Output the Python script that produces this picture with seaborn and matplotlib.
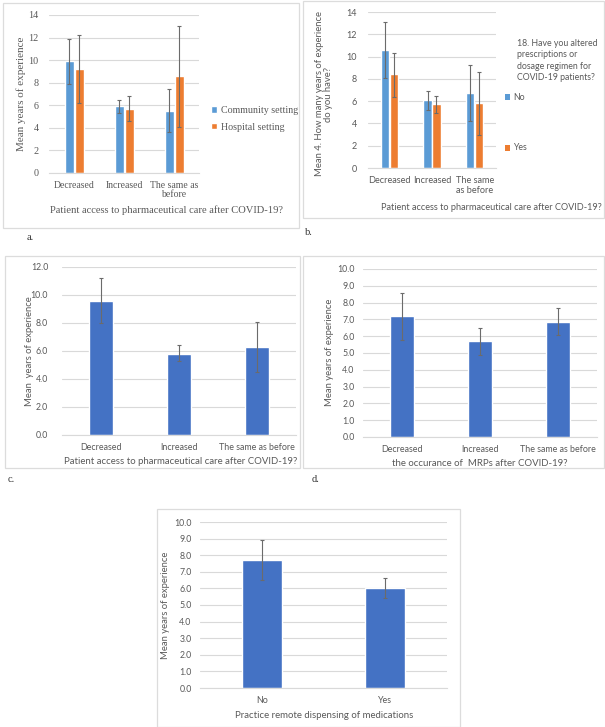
import numpy as np
import pandas as pd
import matplotlib
matplotlib.use("Agg")
import matplotlib.pyplot as plt
import seaborn as sns
from matplotlib.patches import Rectangle, Patch

# ---------------- data ----------------
access_cats = ["Decreased", "Increased", "The same as before"]
a_groups = ["Community setting", "Hospital setting"]
a_community_mean = [9.9, 5.9, 5.5]
a_community_lo = [7.9, 5.3, 3.6]
a_community_hi = [11.9, 6.5, 7.4]
a_hospital_mean = [9.2, 5.7, 8.6]
a_hospital_lo = [6.2, 4.6, 4.1]
a_hospital_hi = [12.2, 6.8, 13.0]
a_ticklabels = ["Decreased", "Increased", "The same as\nbefore"]

b_groups = ["No", "Yes"]
b_no_mean = [10.6, 6.1, 6.7]
b_no_lo = [8.1, 5.2, 4.2]
b_no_hi = [13.1, 6.9, 9.2]
b_yes_mean = [8.4, 5.7, 5.8]
b_yes_lo = [6.4, 4.9, 3.0]
b_yes_hi = [10.3, 6.5, 8.6]
b_ticklabels = ["Decreased", "Increased", "The same\nas before"]

c_mean = [9.6, 5.8, 6.3]
c_lo = [8.0, 5.3, 4.5]
c_hi = [11.2, 6.4, 8.1]

d_mean = [7.2, 5.7, 6.85]
d_lo = [5.8, 4.9, 6.05]
d_hi = [8.6, 6.5, 7.65]

e_cats = ["No", "Yes"]
e_mean = [7.7, 6.0]
e_lo = [6.5, 5.4]
e_hi = [8.9, 6.6]

# ---------------- style ----------------
sns.set_theme(style="white")
SANS = ["Lato", "DejaVu Sans"]
SERIF = ["Liberation Serif", "DejaVu Serif"]
plt.rcParams["font.family"] = SANS
GRAY = "#595959"
GRID = "#D9D9D9"
BLUE = "#5B9BD5"
ORANGE = "#ED7D31"
DBLUE = "#4472C4"
ERR = "#6b6b6b"

W, H = 605, 727
fig = plt.figure(figsize=(W / 100, H / 100), dpi=100)
fig.patch.set_facecolor("white")


def add_ax(l, t, r, b):
    return fig.add_axes([l / W, 1 - b / H, (r - l) / W, (b - t) / H])


def box(l, t, r, b):
    fig.patches.append(Rectangle((l / W, 1 - b / H), (r - l) / W, (b - t) / H,
                                 transform=fig.transFigure, fill=False,
                                 edgecolor="#DCDCDC", lw=0.9, zorder=0))


def ftext(x, y, s, **kw):
    fig.text(x / W, 1 - y / H, s, **kw)


def style_ax(ax, ymax, step, fmt, family, fs, ypad, xpad=6):
    ax.set_ylim(0, ymax)
    ax.set_yticks(np.arange(0, ymax + 0.001, step))
    ax.set_yticklabels([fmt.format(v) for v in np.arange(0, ymax + 0.001, step)],
                       family=family, fontsize=fs, color=GRAY)
    ax.yaxis.grid(True, color=GRID, lw=0.8)
    ax.set_axisbelow(True)
    for s in ["top", "right", "left"]:
        ax.spines[s].set_visible(False)
    ax.spines["bottom"].set_color(GRID)
    ax.spines["bottom"].set_linewidth(0.8)
    ax.tick_params(axis="y", length=0, pad=ypad)
    ax.tick_params(axis="x", length=0, pad=xpad)
    ax.set_xlabel("")
    ax.set_ylabel("")
    ax.set_facecolor("none")


def errs(ax, means, lo, hi, container):
    xs = [p.get_x() + p.get_width() / 2 for p in container]
    m = np.array(means)
    ax.errorbar(xs, m, yerr=[m - np.array(lo), np.array(hi) - m], fmt="none",
                ecolor=ERR, elinewidth=0.8, capsize=1.6, capthick=0.8, zorder=3)


# ---------------- panel a ----------------
box(3, 3, 299, 228)
axa = add_ax(49, 15, 199, 173)
dfa = pd.DataFrame({
    "cat": access_cats * 2,
    "grp": [a_groups[0]] * 3 + [a_groups[1]] * 3,
    "val": a_community_mean + a_hospital_mean,
})
sns.barplot(data=dfa, x="cat", y="val", hue="grp", order=access_cats,
            hue_order=a_groups, palette=[BLUE, ORANGE], errorbar=None,
            saturation=1, width=0.4, gap=0.1, legend=False, ax=axa)
style_ax(axa, 14, 2, "{:.0f}", SERIF, 7.3, ypad=7.5)
axa.set_xticks(range(3))
axa.set_xticklabels(a_ticklabels, family=SERIF, fontsize=7.0, color=GRAY,
                    linespacing=1.0)
errs(axa, a_community_mean, a_community_lo, a_community_hi, axa.containers[0])
errs(axa, a_hospital_mean, a_hospital_lo, a_hospital_hi, axa.containers[1])
axa.set_xlim(-0.5, 2.5)
ftext(21, 94, "Mean years of experience", rotation=90, ha="center", va="center",
      family=SERIF, fontsize=8, color=GRAY)
ftext(167, 210, "Patient access to pharmaceutical care after COVID-19?",
      ha="center", va="center", family=SERIF, fontsize=7.6, color=GRAY)
handles = [Patch(facecolor=BLUE), Patch(facecolor=ORANGE)]
fig.legend(handles, a_groups, loc="upper left",
           bbox_to_anchor=(206 / W, 1 - 101 / H), frameon=False,
           prop={"family": SERIF, "size": 7.2}, labelcolor=GRAY,
           handlelength=0.6, handleheight=0.6, handletextpad=0.4,
           labelspacing=0.75, borderpad=0)
ftext(27, 238, "a.", family=SERIF, fontsize=7.5, color="#333333",
      ha="left", va="center")

# ---------------- panel b ----------------
box(303, 1, 604, 218)
axb = add_ax(368, 12, 496, 168)
dfb = pd.DataFrame({
    "cat": access_cats * 2,
    "grp": [b_groups[0]] * 3 + [b_groups[1]] * 3,
    "val": b_no_mean + b_yes_mean,
})
sns.barplot(data=dfb, x="cat", y="val", hue="grp", order=access_cats,
            hue_order=b_groups, palette=[BLUE, ORANGE], errorbar=None,
            saturation=1, width=0.42, gap=0.1, legend=False, ax=axb)
style_ax(axb, 14, 2, "{:.0f}", SANS, 6.5, ypad=8)
axb.set_xticks(range(3))
axb.set_xticklabels(b_ticklabels, fontsize=6.6, color=GRAY, linespacing=1.1)
errs(axb, b_no_mean, b_no_lo, b_no_hi, axb.containers[0])
errs(axb, b_yes_mean, b_yes_lo, b_yes_hi, axb.containers[1])
axb.set_xlim(-0.5, 2.5)
ftext(324, 94, "Mean 4. How many years of experience\ndo you have?", rotation=90,
      ha="center", va="center", fontsize=6.8, color=GRAY, linespacing=1.1)
ftext(491, 207, "Patient access to pharmaceutical care after COVID-19?",
      ha="center", va="center", fontsize=6.6, color=GRAY)
ftext(517, 39, "18. Have you altered\nprescriptions or\ndosage regimen for\nCOVID-19 patients?",
      ha="left", va="top", fontsize=6.3, color=GRAY, linespacing=1.35)
for lab, col, y in zip(b_groups, [BLUE, ORANGE], [97, 148]):
    fig.patches.append(Rectangle((505 / W, 1 - (y + 2.5) / H), 5 / W, 5 / H,
                                 transform=fig.transFigure, facecolor=col,
                                 edgecolor="none"))
    ftext(513, y, lab, ha="left", va="center", fontsize=6.3, color=GRAY)
ftext(305, 233, "b.", family=SERIF, fontsize=7.5, color="#333333",
      ha="left", va="center")

# ---------------- panel c ----------------
box(5, 256, 300, 468)
axc = add_ax(62, 267, 296, 435)
dfc = pd.DataFrame({"cat": access_cats, "val": c_mean})
sns.barplot(data=dfc, x="cat", y="val", order=access_cats, color=DBLUE,
            saturation=1, errorbar=None, width=0.31, ax=axc)
style_ax(axc, 12, 2, "{:.1f}", SANS, 6.3, ypad=10)
axc.set_xticks(range(3))
axc.set_xticklabels(access_cats, fontsize=6.4, color=GRAY)
errs(axc, c_mean, c_lo, c_hi, axc.containers[0])
axc.set_xlim(-0.5, 2.5)
ftext(29, 351, "Mean  years of experience", rotation=90, ha="center",
      va="center", fontsize=6.8, color=GRAY)
ftext(181, 462, "Patient access to pharmaceutical care after COVID-19?",
      ha="center", va="center", fontsize=6.9, color=GRAY)
ftext(8, 479, "c.", family=SERIF, fontsize=7.5, color="#333333",
      ha="left", va="center")

# ---------------- panel d ----------------
box(303, 256, 604, 468)
axd = add_ax(363, 269, 597, 437)
dfd = pd.DataFrame({"cat": access_cats, "val": d_mean})
sns.barplot(data=dfd, x="cat", y="val", order=access_cats, color=DBLUE,
            saturation=1, errorbar=None, width=0.31, ax=axd)
style_ax(axd, 10, 1, "{:.1f}", SANS, 6.3, ypad=6)
axd.set_xticks(range(3))
axd.set_xticklabels(access_cats, fontsize=6.4, color=GRAY)
errs(axd, d_mean, d_lo, d_hi, axd.containers[0])
axd.set_xlim(-0.5, 2.5)
ftext(329, 352, "Mean years of experience", rotation=90, ha="center",
      va="center", fontsize=6.8, color=GRAY)
ftext(480, 464, "the occurance of  MRPs after COVID-19?",
      ha="center", va="center", fontsize=6.9, color=GRAY)
ftext(312, 480, "d.", family=SERIF, fontsize=7.5, color="#333333",
      ha="left", va="center")

# ---------------- panel e ----------------
box(157, 509, 460, 727)
axe = add_ax(200, 522, 447, 688)
dfe = pd.DataFrame({"cat": e_cats, "val": e_mean})
sns.barplot(data=dfe, x="cat", y="val", order=e_cats, color=DBLUE,
            saturation=1, errorbar=None, width=0.32, ax=axe)
style_ax(axe, 10, 1, "{:.1f}", SANS, 6.3, ypad=6)
axe.set_xticks(range(2))
axe.set_xticklabels(e_cats, fontsize=6.4, color=GRAY)
errs(axe, e_mean, e_lo, e_hi, axe.containers[0])
axe.set_xlim(-0.5, 1.5)
ftext(165, 605, "Mean years of experience", rotation=90, ha="center",
      va="center", fontsize=6.8, color=GRAY)
ftext(324, 716, "Practice remote dispensing of medications",
      ha="center", va="center", fontsize=6.9, color=GRAY)

fig.savefig("out.png", dpi=100, facecolor="white")
